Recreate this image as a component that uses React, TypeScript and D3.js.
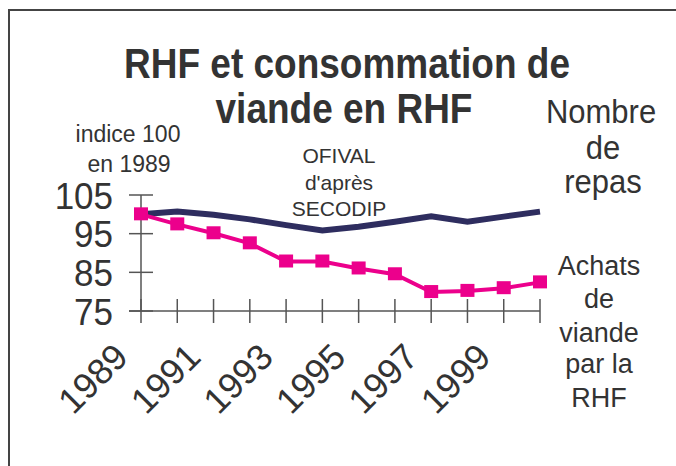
import React from 'react'
import * as d3 from 'd3'

const years = [1989, 1990, 1991, 1992, 1993, 1994, 1995, 1996, 1997, 1998, 1999, 2000]
// Nombre de repas (indice 100 en 1989)
const repas = [100, 100.7, 99.9, 98.7, 97.2, 95.8, 96.8, 98.1, 99.5, 98.1, 99.4, 100.7]
// Achats de viande par la RHF
const viande = [100, 97.4, 95.1, 92.5, 87.8, 87.8, 86.0, 84.5, 79.9, 80.2, 80.9, 82.4]
const yTicks = [75, 85, 95, 105]
const xLabels = [1989, 1991, 1993, 1995, 1997, 1999]

const W = 676
const H = 466
const FONT = 'Liberation Sans, Arial, sans-serif'
const TXT = '#333'

export default function App() {
  const x = d3.scaleLinear().domain([1989, 2000]).range([141, 540])
  const y = d3.scaleLinear().domain([75, 105]).range([311, 195])

  const line = d3
    .line<number>()
    .x((d, i) => x(years[i]))
    .y((d) => y(d))

  const ms = 14

  return (
    <svg
      width={W}
      height={H}
      style={{position: 'absolute', left: 0, top: 0, background: '#fff'}}
      fontFamily={FONT}
    >
      <rect x={9} y={10} width={720} height={520} fill="none" stroke="#444" strokeWidth={2} />

      {/* title */}
      <g fontSize={37} fontWeight="bold" fill={TXT} textAnchor="middle">
        <text transform="translate(347,78) scale(1,1.15)">RHF et consommation de</text>
        <text transform="translate(344,123) scale(1,1.15)">viande en RHF</text>
      </g>

      {/* axes */}
      <g stroke="#555" strokeWidth={1.5}>
        <line x1={x(1989)} x2={x(1989)} y1={y(105)} y2={y(75)} />
        <line x1={x(1989) - 12} x2={x(2000)} y1={y(75)} y2={y(75)} />
        {yTicks.map((t) => (
          <line key={t} x1={x(1989) - 12} x2={x(1989) + 12} y1={y(t)} y2={y(t)} />
        ))}
        {years.map((yr) => (
          <line key={yr} x1={x(yr)} x2={x(yr)} y1={y(75) - 12} y2={y(75) + 12} />
        ))}
      </g>

      {yTicks.map((t) => (
        <text
          key={t}
          transform={`translate(113,${y(t)}) scale(1,1.08)`}
          dy="0.36em"
          textAnchor="end"
          fontSize={35}
          fill={TXT}
        >
          {t}
        </text>
      ))}

      {xLabels.map((yr) => (
        <text
          key={yr}
          transform={`translate(${x(yr) - 11},${359}) rotate(-45)`}
          textAnchor="end"
          fontSize={36}
          fill={TXT}
        >
          {yr}
        </text>
      ))}

      {/* series */}
      <path d={line(repas) || ''} fill="none" stroke="#2e2d5f" strokeWidth={6} />
      <path d={line(viande) || ''} fill="none" stroke="#ec008c" strokeWidth={4} />
      {viande.map((v, i) => (
        <rect key={i} x={x(years[i]) - ms / 2} y={y(v) - ms / 2} width={ms} height={ms - 1} fill="#ec008c" />
      ))}

      {/* annotations */}
      <g fill={TXT} textAnchor="middle">
        <text x={128} y={142} fontSize={23}>indice 100</text>
        <text x={129} y={172} fontSize={23}>en 1989</text>

        <text x={339} y={163} fontSize={21}>OFIVAL</text>
        <text x={339} y={190} fontSize={21}>d'après</text>
        <text x={339} y={216} fontSize={21}>SECODIP</text>
      </g>
      <g fill={TXT} textAnchor="middle" fontSize={31}>
        <text transform="translate(601,123) scale(1,1.08)">Nombre</text>
        <text transform="translate(603,159) scale(1,1.08)">de</text>
        <text transform="translate(603,193) scale(1,1.08)">repas</text>
      </g>
      <g fill={TXT} textAnchor="middle" fontSize={27}>
        <text x={599} y={275}>Achats</text>
        <text x={599} y={308}>de</text>
        <text x={599} y={342}>viande</text>
        <text x={599} y={373}>par la</text>
        <text x={599} y={407}>RHF</text>
      </g>
    </svg>
  )
}
